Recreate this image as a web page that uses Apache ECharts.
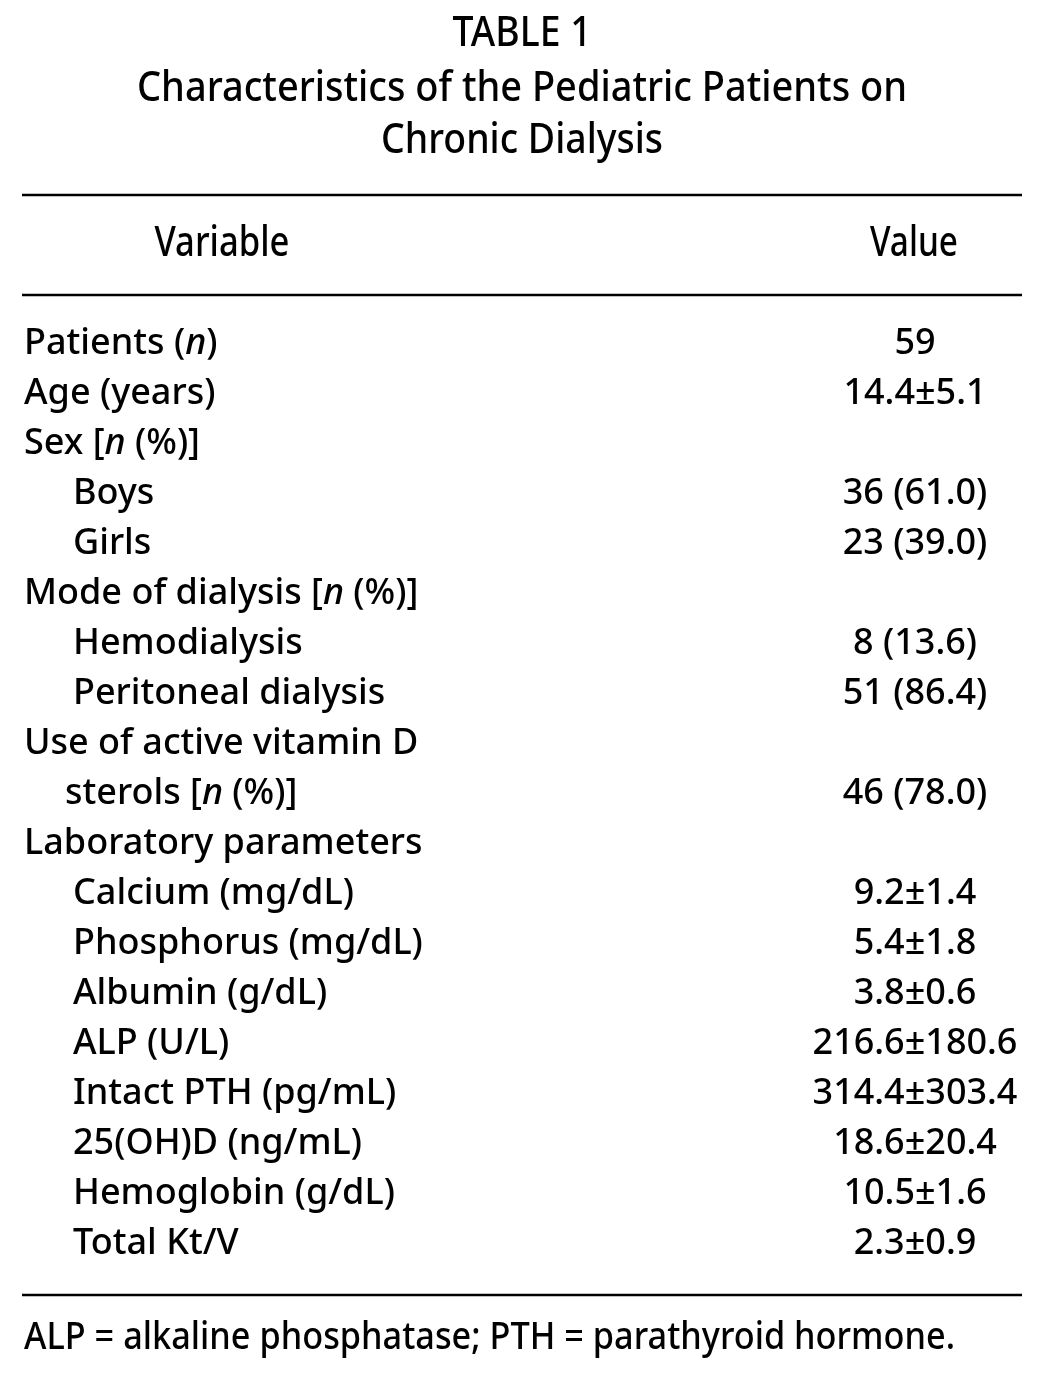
<!DOCTYPE html>
<html>
<head>
<meta charset="utf-8">
<script src="https://cdn.jsdelivr.net/npm/echarts@6/dist/echarts.min.js"></script>
<style>
html,body{margin:0;padding:0;background:#fff;}
#chart{width:1040px;height:1376px;}
</style>
</head>
<body>
<div id="chart"></div>
<script>
// ---- data ----
const titleLines = ['TABLE 1', 'Characteristics of the Pediatric Patients on', 'Chronic Dialysis'];
const headers = ['Variable', 'Value'];
// *n* marks italic text
const variables = [
  'Patients (*n*)',
  'Age (years)',
  'Sex [*n* (%)]',
  'Boys',
  'Girls',
  'Mode of dialysis [*n* (%)]',
  'Hemodialysis',
  'Peritoneal dialysis',
  'Use of active vitamin D',
  'sterols [*n* (%)]',
  'Laboratory parameters',
  'Calcium (mg/dL)',
  'Phosphorus (mg/dL)',
  'Albumin (g/dL)',
  'ALP (U/L)',
  'Intact PTH (pg/mL)',
  '25(OH)D (ng/mL)',
  'Hemoglobin (g/dL)',
  'Total Kt/V'
];
const indentLevels = [0,0,0,1,1,0,1,1,0,2,0,1,1,1,1,1,1,1,1];
const values = [
  '59', '14.4±5.1', '', '36 (61.0)', '23 (39.0)', '', '8 (13.6)', '51 (86.4)',
  '', '46 (78.0)', '', '9.2±1.4', '5.4±1.8', '3.8±0.6', '216.6±180.6',
  '314.4±303.4', '18.6±20.4', '10.5±1.6', '2.3±0.9'
];
const footnote = 'ALP = alkaline phosphatase; PTH = parathyroid hormone.';

// ---- layout / style ----
const FONT = '"Noto Sans", "Open Sans", sans-serif';
const bodySize = 36;
const bodyWeight = 500;
const titleSize = 41;
const indentX = [24, 73, 65];
const valueX = 915;
const rowY0 = 344, rowStep = 50;
const ctx = document.createElement('canvas').getContext('2d');
function measure(text, size, weight) {
  ctx.font = (weight || 'normal') + ' ' + size + 'px ' + FONT;
  return ctx.measureText(text).width;
}
function condensedText(text, cx, cy, size, targetW, align) {
  const w = measure(text, size, 500);
  const s = targetW / w;
  return {
    type: 'text',
    x: cx, y: cy,
    scaleX: s,
    style: {
      text: text,
      font: '500 ' + size + 'px ' + FONT,
      fill: '#000',
      align: align || 'center',
      verticalAlign: 'middle'
    }
  };
}
function richLabel(str) {
  const parts = str.split('*');
  let out = '';
  parts.forEach((p, i) => {
    if (!p) return;
    out += '{' + (i % 2 ? 'i' : 'r') + '|' + p + '}';
  });
  return out;
}

const graphics = [];
// title
graphics.push(condensedText(titleLines[0], 522, 34, titleSize, 139));
graphics.push(condensedText(titleLines[1], 522, 89, titleSize, 770));
graphics.push(condensedText(titleLines[2], 522, 141, titleSize, 282));
// rules
[195, 295, 1295].forEach(y => graphics.push({
  type: 'line', shape: {x1: 22, y1: y, x2: 1022, y2: y},
  style: {stroke: '#000', lineWidth: 2.5}
}));
// headers
graphics.push(condensedText(headers[0], 222, 244, titleSize, 135));
graphics.push(condensedText(headers[1], 914, 244, titleSize, 88));
// rows
variables.forEach((v, i) => {
  const y = rowY0 + i * rowStep;
  graphics.push({
    type: 'text', x: indentX[indentLevels[i]], y: y,
    style: {
      text: richLabel(v),
      fill: '#000',
      align: 'left', verticalAlign: 'middle',
      rich: {
        r: {fontFamily: FONT, fontSize: bodySize, fontWeight: bodyWeight, fill: '#000'},
        i: {fontFamily: FONT, fontSize: bodySize, fontWeight: bodyWeight, fontStyle: 'italic', fill: '#000'}
      }
    }
  });
  if (values[i]) {
    graphics.push({
      type: 'text', x: valueX, y: y,
      style: {
        text: values[i], font: bodyWeight + ' ' + bodySize + 'px ' + FONT, fill: '#000',
        align: 'center', verticalAlign: 'middle'
      }
    });
  }
});
// footnote
graphics.push(condensedText(footnote, 24, 1338, titleSize - 3, 931, 'left'));

const chart = echarts.init(document.getElementById('chart'), null, {renderer: 'canvas'});
chart.setOption({
  backgroundColor: '#fff',
  animation: false,
  graphic: graphics
});
</script>
</body>
</html>
